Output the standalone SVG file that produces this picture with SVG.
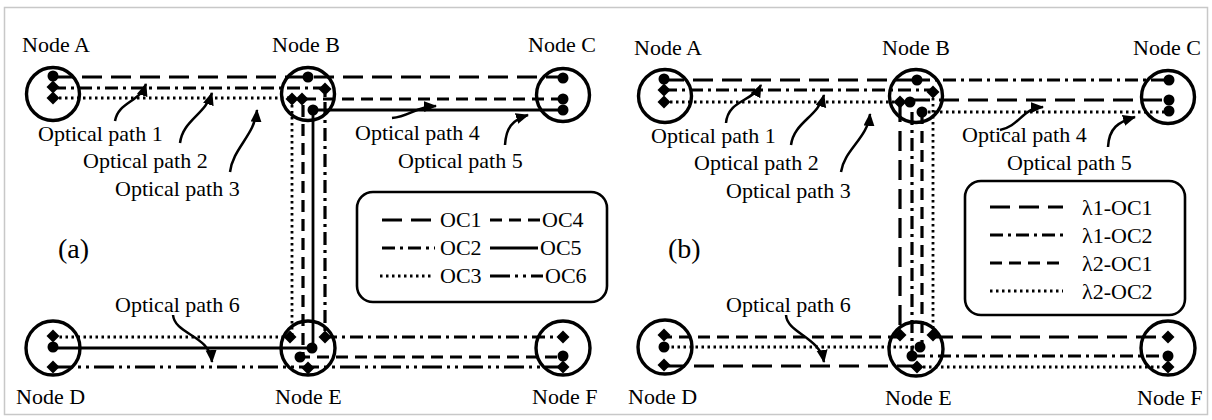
<svg xmlns="http://www.w3.org/2000/svg" xmlns:xlink="http://www.w3.org/1999/xlink" width="1212" height="420" viewBox="0 0 1212 420">
<style>
text{font-family:"Liberation Serif","Times New Roman",serif;font-size:22px;fill:#000}
.big{font-size:28px}
.nc{fill:none;stroke:#000;stroke-width:3.4}
.ln{fill:none;stroke:#000;stroke-width:3.2}
.l1{stroke-dasharray:20 9}
.l2{stroke-dasharray:13 5 3 5}
.l3{stroke-dasharray:2.5 3.5;stroke-width:2.8}
.l4{stroke-dasharray:12 7}
.l5{stroke-width:2.8}
.l6{stroke-dasharray:20 5 3 5 3 5}
.ar{fill:none;stroke:#000;stroke-width:2.5;marker-end:url(#ah)}
.lg{fill:none;stroke:#000;stroke-width:2.6}
</style>
<defs>
<marker id="ah" markerUnits="userSpaceOnUse" markerWidth="14" markerHeight="12" refX="12" refY="5.5" orient="auto"><path d="M0,0 L13,5.5 L0,11 z" fill="#000"/></marker>
<path id="dm" d="M0,-6.5 L6.5,0 L0,6.5 L-6.5,0 z" fill="#000"/>
</defs>
<rect x="0" y="0" width="1212" height="420" fill="#fff"/>
<rect x="4.5" y="7.5" width="1203" height="407" fill="none" stroke="#c8c8c8" stroke-width="1.5"/>

<g id="connectors">
<path class="ln l1" d="M53,77 L563,77"/>
<path class="ln l2" d="M53,88 L325,88 L325,337 L563,337"/>
<path class="ln l3" d="M53,98 L292,98 L292,337 L53,337"/>
<path class="ln l4" d="M563,99 L303,99 L303,357 L563,357"/>
<path class="ln l5" d="M563,110 L313,110 L313,348 L53,348"/>
<path class="ln l6" d="M53,367 L563,367"/>
<path class="ar" d="M115,121 C118,102 140,102 146,84"/>
<path class="ar" d="M180,143 C183,120 205,115 212,93"/>
<path class="ar" d="M230,172 C233,148 255,135 257,110"/>
<path class="ar" d="M392,118 C410,116 415,107 436,106"/>
<path class="ar" d="M505,145 C506,128 512,120 528,115"/>
<path class="ar" d="M173,315 C175,335 210,335 212,362"/>
<path class="ln l1" d="M664,80 L917,80"/>
<path class="ln l2" d="M664,90 L933,90"/>
<path class="ln l3" d="M664,102 L900,102"/>
<path class="ln l2" d="M917,80 L1169,80"/>
<path class="ln l1" d="M910,100 L1169,100"/>
<path class="ln l3" d="M922,112 L1169,112"/>
<path class="ln l1" d="M900,102 L900,335"/>
<path class="ln l2" d="M912,112 L912,355"/>
<path class="ln l4" d="M922,112 L922,347"/>
<path class="ln l3" d="M933,92 L933,335"/>
<path class="ln l4" d="M900,337 L664,337"/>
<path class="ln l3" d="M920,347 L664,347"/>
<path class="ln l1" d="M917,366 L664,366"/>
<path class="ln l1" d="M933,337 L1168,337"/>
<path class="ln l2" d="M912,356 L1168,356"/>
<path class="ln l3" d="M917,367 L1168,367"/>
<path class="ar" d="M726,123 C728,100 752,102 761,85"/>
<path class="ar" d="M791,145 C794,122 818,117 824,95"/>
<path class="ar" d="M841,172 C844,150 868,138 870,114"/>
<path class="ar" d="M1000,130 C1020,126 1022,108 1043,107"/>
<path class="ar" d="M1108,147 C1109,128 1118,122 1135,117"/>
<path class="ar" d="M786,315 C787,333 820,337 824,362"/>
</g>

<g id="labels-a">
<text x="38" y="141">Optical path 1</text>
<text x="83" y="168">Optical path 2</text>
<text x="115" y="196">Optical path 3</text>
<text x="355" y="140">Optical path 4</text>
<text x="398" y="168">Optical path 5</text>
<text x="115" y="312">Optical path 6</text>
<text class="big" x="58" y="258">(a)</text>
</g>
<g id="labels-b">
<text x="651" y="143">Optical path 1</text>
<text x="694" y="170">Optical path 2</text>
<text x="726" y="198">Optical path 3</text>
<text x="962" y="142">Optical path 4</text>
<text x="1007" y="170">Optical path 5</text>
<text x="726" y="312">Optical path 6</text>
<text class="big" x="668" y="258">(b)</text>
</g>

<g id="a-nodeA"><circle class="nc" cx="53" cy="94" r="26.5"/><circle cx="53" cy="76" r="5.5"/><use href="#dm" x="53" y="87"/><use href="#dm" x="53" y="98"/><text x="22" y="52">Node A</text></g>
<g id="a-nodeB"><circle class="nc" cx="308" cy="94" r="26.5"/><circle cx="308" cy="77" r="5.5"/><use href="#dm" x="325" y="89"/><use href="#dm" x="292" y="99"/><use href="#dm" x="302" y="99"/><circle cx="313" cy="110" r="5.5"/><text x="272" y="52">Node B</text></g>
<g id="a-nodeC"><circle class="nc" cx="563" cy="95" r="26.5"/><circle cx="563" cy="78" r="5.5"/><circle cx="563" cy="99" r="5.5"/><circle cx="563" cy="110" r="5.5"/><text x="528" y="52">Node C</text></g>
<g id="a-nodeD"><circle class="nc" cx="53" cy="348" r="27"/><use href="#dm" x="53" y="336"/><circle cx="53" cy="347" r="5.5"/><use href="#dm" x="53" y="367"/><text x="16" y="404">Node D</text></g>
<g id="a-nodeE"><circle class="nc" cx="308" cy="348" r="27"/><use href="#dm" x="290" y="337"/><use href="#dm" x="325" y="337"/><circle cx="312" cy="348" r="5.5"/><circle cx="300" cy="357" r="5.5"/><use href="#dm" x="308" y="368"/><text x="275" y="404">Node E</text></g>
<g id="a-nodeF"><circle class="nc" cx="563" cy="348" r="27"/><use href="#dm" x="563" y="337"/><circle cx="563" cy="356" r="5.5"/><use href="#dm" x="563" y="367"/><text x="532" y="404">Node F</text></g>

<g id="b-nodeA"><circle class="nc" cx="665" cy="96" r="26.5"/><circle cx="664" cy="79" r="5.5"/><use href="#dm" x="664" y="90"/><use href="#dm" x="664" y="102"/><text x="634" y="55">Node A</text></g>
<g id="b-nodeB"><circle class="nc" cx="916" cy="96" r="26.5"/><circle cx="917" cy="80" r="5.5"/><use href="#dm" x="933" y="92"/><use href="#dm" x="900" y="102"/><circle cx="910" cy="102" r="5.5"/><circle cx="922" cy="112" r="5.5"/><text x="882" y="55">Node B</text></g>
<g id="b-nodeC"><circle class="nc" cx="1168" cy="97" r="26.5"/><circle cx="1169" cy="80" r="5.5"/><circle cx="1169" cy="100" r="5.5"/><circle cx="1169" cy="111" r="5.5"/><text x="1133" y="55">Node C</text></g>
<g id="b-nodeD"><circle class="nc" cx="665" cy="347" r="27"/><use href="#dm" x="664" y="335"/><circle cx="664" cy="347" r="5.5"/><use href="#dm" x="664" y="365"/><text x="628" y="404">Node D</text></g>
<g id="b-nodeE"><circle class="nc" cx="916" cy="349" r="27"/><use href="#dm" x="900" y="335"/><use href="#dm" x="933" y="335"/><circle cx="920" cy="347" r="5.5"/><circle cx="912" cy="356" r="5.5"/><use href="#dm" x="917" y="367"/><text x="885" y="405">Node E</text></g>
<g id="b-nodeF"><circle class="nc" cx="1168" cy="348" r="27"/><use href="#dm" x="1168" y="337"/><circle cx="1168" cy="356" r="5.5"/><use href="#dm" x="1168" y="367"/><text x="1137" y="405">Node F</text></g>

<g id="legend-a">
<rect class="lg" x="357" y="192" width="250" height="110" rx="16"/>
<path class="ln l1" d="M382,220 L435,220"/><text x="440" y="227">OC1</text>
<path class="ln l4" d="M490,220 L540,220"/><text x="542" y="227">OC4</text>
<path class="ln l2" d="M382,248 L435,248"/><text x="440" y="255">OC2</text>
<path class="ln l5" d="M490,248 L538,248"/><text x="540" y="255">OC5</text>
<path class="ln l3" d="M380,276 L432,276"/><text x="440" y="283">OC3</text>
<path class="ln l6" d="M490,276 L543,276"/><text x="545" y="283">OC6</text>
</g>
<g id="legend-b">
<rect class="lg" x="965" y="181" width="220" height="134" rx="16"/>
<path class="ln l1" d="M990,207 L1063,207"/><text x="1082" y="215">λ1-OC1</text>
<path class="ln l2" d="M990,235 L1063,235"/><text x="1082" y="243">λ1-OC2</text>
<path class="ln l4" d="M990,263 L1063,263"/><text x="1082" y="271">λ2-OC1</text>
<path class="ln l3" d="M990,291 L1063,291"/><text x="1082" y="299">λ2-OC2</text>
</g>
</svg>
